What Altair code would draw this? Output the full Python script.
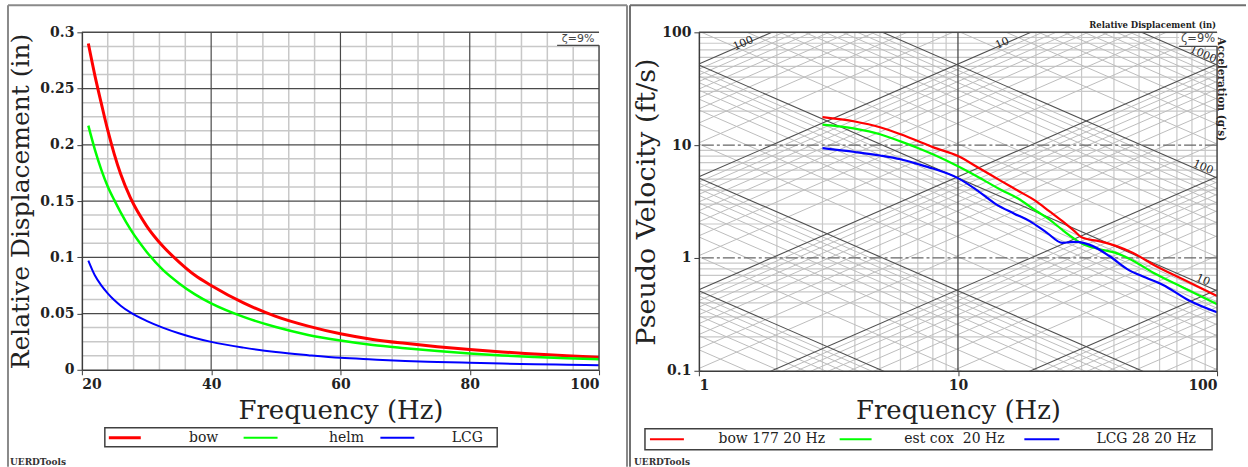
import math
import altair as alt
import pandas as pd

# ---------------------------------------------------------------------------
# Relative displacement (in) versus frequency (Hz)
# ---------------------------------------------------------------------------
disp_freq = [21, 22, 23, 24, 25, 26, 27.5, 30, 32.5, 35, 37.5, 40,
             45, 50, 55, 60, 65, 70, 75, 80, 85, 90, 95, 100]
disp_bow = [0.290, 0.262, 0.237, 0.213, 0.192, 0.174, 0.153, 0.128, 0.110, 0.096, 0.084, 0.075,
            0.0595, 0.0475, 0.0388, 0.032, 0.027, 0.0235, 0.0205, 0.018, 0.0158, 0.0141, 0.0125, 0.0112]
disp_helm = [0.217, 0.196, 0.178, 0.163, 0.151, 0.140, 0.125, 0.105, 0.089, 0.077, 0.067, 0.059,
             0.047, 0.038, 0.031, 0.026, 0.022, 0.0192, 0.0167, 0.0145, 0.0128, 0.0114, 0.0102, 0.0093]
disp_lcg = [0.097, 0.084, 0.075, 0.068, 0.062, 0.057, 0.051, 0.0435, 0.0375, 0.0325, 0.0283, 0.0248,
            0.0197, 0.0158, 0.013, 0.0106, 0.0092, 0.0079, 0.007, 0.0062, 0.0055, 0.005, 0.0045, 0.0041]
disp_names = ["bow", "helm", "LCG"]

# ---------------------------------------------------------------------------
# Pseudo velocity shock spectra (ft/s), 9 % damping
# ---------------------------------------------------------------------------
pv_bow_freq = [3, 4, 5, 6, 7, 8, 10, 12, 14.7, 17, 20, 22.5, 25.3, 28, 30.3, 35, 40.7, 47.2, 58, 73.5, 100]
pv_bow = [17.7, 16.2, 14.4, 12.5, 10.9, 9.6, 8.0, 6.3, 4.8, 3.96, 3.19, 2.6, 2.12, 1.75, 1.51, 1.41,
          1.28, 1.11, 0.85, 0.65, 0.46]
pv_est_freq = [3, 4, 5, 6, 7, 8, 10, 12, 14.7, 17, 20, 22.5, 25.3, 28, 30.3, 35, 40.7, 47.2, 58, 73.5, 100]
pv_est = [15.2, 14.0, 12.5, 10.8, 9.45, 8.3, 6.5, 5.2, 4.0, 3.38, 2.62, 2.2, 1.77, 1.49, 1.33, 1.2,
          1.11, 0.95, 0.72, 0.55, 0.39]
pv_lcg_freq = [3, 4, 5, 6, 7, 8, 10, 12, 14, 16.5, 18.9, 22, 25.3, 27, 28.5, 33, 38.4, 45.7, 53, 61.6, 78, 100]
pv_lcg = [9.4, 8.7, 8.1, 7.5, 6.8, 6.2, 5.1, 3.9, 3.0, 2.47, 2.12, 1.68, 1.36, 1.38, 1.39, 1.28,
          1.04, 0.78, 0.67, 0.58, 0.42, 0.33]
pv_names = ["bow 177 20 Hz", "est cox\u00a0 20 Hz", "LCG 28 20 Hz"]

series_colors = ["#ff0000", "#00ff00", "#0000ff"]

# Tripartite grid: displacement lines (in) and acceleration lines (g)
disp_decades = [-3, -2, -1, 0, 1, 2]
acc_decades = [-2, -1, 0, 1, 2, 3]
disp_labels = [100, 10]
acc_labels = [1000, 100, 10]

G_FTS2 = 32.174  # standard gravity, ft/s^2

SERIF = "DejaVu Serif"
INK = "#222222"
MINOR = "#c8c8c8"
MAJOR = "#4a4a4a"
FRAME = "#8a8a8a"

one = pd.DataFrame({"k": [0]})


def disp_to_pv(f, d_in):
    return 2 * math.pi * f * d_in / 12.0


def acc_to_pv(f, a_g):
    return a_g * G_FTS2 / (2 * math.pi * f)


def fixed_rule(x, y, x2=None, y2=None, color=MAJOR, width=1.5, dash=None):
    enc = dict(x=alt.value(x), y=alt.value(y))
    if x2 is not None:
        enc["x2"] = alt.value(x2)
    if y2 is not None:
        enc["y2"] = alt.value(y2)
    mk = dict(color=color, strokeWidth=width)
    if dash:
        mk["strokeDash"] = dash
    return alt.Chart(one).mark_rule(**mk).encode(**enc)


def fixed_text(text, x, y, **kw):
    return alt.Chart(one).mark_text(text=text, **kw).encode(x=alt.value(x), y=alt.value(y))


def fixed_rect(x, y, x2, y2, **kw):
    return alt.Chart(one).mark_rect(**kw).encode(
        x=alt.value(x), x2=alt.value(x2), y=alt.value(y), y2=alt.value(y2))


def make_axis(**kw):
    base = dict(grid=False, domainColor="#3c3c3c", domainWidth=1.5, tickColor="#3c3c3c",
                tickSize=5, labelFont=SERIF, labelFontWeight="bold", labelFontSize=14,
                labelColor=INK, labelPadding=3, titleFont=SERIF, titleFontSize=26,
                titleFontWeight="normal", titleColor=INK, titleAlign="center",
                titleBaseline="middle", zindex=1)
    base.update(kw)
    return alt.Axis(**base)


def vrules(vals, scale, axis, color, width, dash=None):
    mk = dict(color=color, strokeWidth=width)
    if dash:
        mk["strokeDash"] = dash
    return alt.Chart(pd.DataFrame({"v": vals})).mark_rule(**mk).encode(
        x=alt.X("v:Q", scale=scale, axis=axis))


def hrules(vals, scale, axis, color, width, dash=None):
    mk = dict(color=color, strokeWidth=width)
    if dash:
        mk["strokeDash"] = dash
    return alt.Chart(pd.DataFrame({"v": vals})).mark_rule(**mk).encode(
        y=alt.Y("v:Q", scale=scale, axis=axis))


def legend_layers(names, sym_spans, label_xs, y, box, widths):
    layers = [fixed_rect(*box, fill="white", stroke="#404040", strokeWidth=1.5)]
    for name, color, (xa, xb), lx, w in zip(names, series_colors, sym_spans, label_xs, widths):
        layers.append(fixed_rule(xa, y, x2=xb, color=color, width=w))
        layers.append(fixed_text(name, lx, y, font=SERIF, fontSize=14, color=INK,
                                 align="center", baseline="middle"))
    return layers


# ---------------------------------------------------------------------------
# Left panel
# ---------------------------------------------------------------------------
WL, HL = 518, 338
xL = alt.Scale(domain=[20, 100], nice=False, zero=False)
yL = alt.Scale(domain=[0, 0.3], nice=False)
xL_axis = make_axis(values=[20, 40, 60, 80, 100], format="d",
                    title="Frequency (Hz)", titleX=WL / 2, titleY=41)
yL_axis = make_axis(values=[0, 0.05, 0.1, 0.15, 0.2, 0.25, 0.3], format="~g",
                    title="Relative Displacement (in)", titleX=-61, titleY=HL / 2, titleAngle=270,
                    titleFontSize=25)

left_df = pd.DataFrame([
    {"series": n, "f": f, "d": d}
    for n, vals in zip(disp_names, [disp_bow, disp_helm, disp_lcg])
    for f, d in zip(disp_freq, vals)
])

left_curves = alt.Chart(left_df).mark_line(interpolate="monotone").encode(
    x=alt.X("f:Q", scale=xL, axis=xL_axis),
    y=alt.Y("d:Q", scale=yL, axis=yL_axis),
    color=alt.Color("series:N", scale=alt.Scale(domain=disp_names, range=series_colors), legend=None),
    strokeWidth=alt.StrokeWidth("series:N", scale=alt.Scale(domain=disp_names, range=[3, 2, 1.8]),
                                legend=None),
)

left_minor_x = [f for f in range(24, 100, 4) if f % 20]
left_major_x = [40, 60, 80]
left_minor_y = [i * 0.0125 for i in range(1, 24) if i % 4]
left_major_y = [0.05, 0.1, 0.15, 0.2, 0.25]

left_layers = [
    fixed_rect(-81, -31, 1167, 436, fill="white"),
    fixed_rule(-74, -27, x2=546, color=FRAME, width=2),
    fixed_rule(-74, -27, y2=435, color=FRAME, width=2),
    fixed_rule(546, -27, y2=435, color=FRAME, width=2),
    vrules(left_minor_x, xL, xL_axis, MINOR, 1.5),
    hrules(left_minor_y, yL, yL_axis, MINOR, 1.5),
    vrules(left_major_x, xL, xL_axis, MAJOR, 1.2),
    hrules(left_major_y, yL, yL_axis, MAJOR, 1.2),
    left_curves,
    fixed_rule(0, 0, x2=WL, color=MAJOR, width=1.5),
    fixed_rect(476, 1, 521, 13, fill="white"),
    fixed_rule(476, 13, x2=WL, color=MAJOR, width=1.2),
    fixed_rule(WL, 13, y2=HL, color=MAJOR, width=1.5),
    fixed_text("\u03b6=9%", 497, 7, font="DejaVu Sans", fontSize=11, color="#444444",
               align="center", baseline="middle"),
    *legend_layers(disp_names, [(27, 59), (162, 196), (299, 333)], [122, 265, 386], 406,
                   (23, 396, 416, 415), [3, 2, 2]),
    fixed_text("UERDTools", -72, 433, font=SERIF, fontSize=9, fontWeight="bold", color="#333333",
               align="left", baseline="alphabetic"),
]
left = alt.layer(*left_layers).properties(width=WL, height=HL)

# ---------------------------------------------------------------------------
# Right panel: tripartite pseudo velocity plot
# ---------------------------------------------------------------------------
WR, HR = 519, 339
xR = alt.Scale(type="log", domain=[1, 100], nice=False)
yR = alt.Scale(type="log", domain=[0.1, 100], nice=False)
xR_axis = make_axis(values=[1, 10, 100], format="~g",
                    title="Frequency (Hz)", titleX=WR / 2, titleY=40)
yR_axis = make_axis(values=[0.1, 1, 10, 100], format="~g",
                    title="Pseudo Velocity (ft/s)", titleX=-52, titleY=HR / 2, titleAngle=270,
                    titleFontSize=27)

right_df = pd.DataFrame([
    {"series": n, "f": f, "v": v}
    for n, fs, vs in zip(pv_names, [pv_bow_freq, pv_est_freq, pv_lcg_freq], [pv_bow, pv_est, pv_lcg])
    for f, v in zip(fs, vs)
])

right_curves = alt.Chart(right_df).mark_line(interpolate="monotone").encode(
    x=alt.X("f:Q", scale=xR, axis=xR_axis),
    y=alt.Y("v:Q", scale=yR, axis=yR_axis),
    color=alt.Color("series:N", scale=alt.Scale(domain=pv_names, range=series_colors), legend=None),
    strokeWidth=alt.value(2.2),
)

diag_rows = []
for k in disp_decades:
    for m in range(1, 10):
        d = m * 10 ** k
        for f in (1, 100):
            diag_rows.append({"id": f"d{k}_{m}", "f": f, "v": disp_to_pv(f, d), "major": m == 1})
for k in acc_decades:
    for m in range(1, 10):
        a = m * 10 ** k
        for f in (1, 100):
            diag_rows.append({"id": f"a{k}_{m}", "f": f, "v": acc_to_pv(f, a), "major": m == 1})
diag_df = pd.DataFrame(diag_rows)


def diagonals(df, color, width):
    return alt.Chart(df).mark_line(clip=True, color=color, strokeWidth=width).encode(
        x=alt.X("f:Q", scale=xR, axis=xR_axis),
        y=alt.Y("v:Q", scale=yR, axis=yR_axis),
        detail="id:N",
    )


right_minor_x = [m * 10 ** k for k in (0, 1) for m in range(2, 10)]
right_minor_y = [m * 10 ** k for k in (-1, 0, 1) for m in range(2, 10)]

angle = math.degrees(math.atan((HR / 3) / (WR / 2)))
d_lab_df = pd.DataFrame([{"f": 78 * 12 / (2 * math.pi * d), "v": 78.0, "t": f"{d:g}"} for d in disp_labels])
a_lab_df = pd.DataFrame([{"f": 87.0, "v": acc_to_pv(87.0, a), "t": f"{a:g}"} for a in acc_labels])

d_labels = alt.Chart(d_lab_df).mark_text(font=SERIF, fontSize=11, color=INK, angle=360 - angle,
                                        align="center", baseline="middle", dy=-1).encode(
    x=alt.X("f:Q", scale=xR, axis=xR_axis), y=alt.Y("v:Q", scale=yR, axis=yR_axis), text="t:N")
a_labels = alt.Chart(a_lab_df).mark_text(font=SERIF, fontSize=11, color=INK, angle=angle,
                                        align="center", baseline="middle", dy=-4).encode(
    x=alt.X("f:Q", scale=xR, axis=xR_axis), y=alt.Y("v:Q", scale=yR, axis=yR_axis), text="t:N")

right_layers = [
    fixed_rule(-69, -27, x2=548, color="#707070", width=2),
    fixed_rule(-69, -27, y2=435, color="#707070", width=2),
    vrules(right_minor_x, xR, xR_axis, MINOR, 1.2),
    hrules(right_minor_y, yR, yR_axis, MINOR, 1.2),
    diagonals(diag_df[~diag_df["major"]], "#bdbdbd", 1),
    diagonals(diag_df[diag_df["major"]], "#505050", 1.1),
    vrules([10], xR, xR_axis, MAJOR, 1.3),
    hrules([1, 10], yR, yR_axis, "#666666", 1.3, dash=[12, 3, 3, 3]),
    right_curves,
    d_labels,
    a_labels,
    fixed_rule(0, 0, x2=WR, color=MAJOR, width=1.5),
    fixed_rect(481, 1, 522, 14, fill="white"),
    fixed_rule(481, 14, x2=WR, color=MAJOR, width=1.2),
    fixed_rule(WR, 14, y2=HR, color=MAJOR, width=1.5),
    fixed_text("\u03b6=9%", 500, 7, font="DejaVu Sans", fontSize=11.5, color="#444444",
               align="center", baseline="middle"),
    fixed_text("Relative Displacement (in)", WR - 1, -4, font=SERIF, fontSize=8.5, fontWeight="bold",
               color=INK, align="right", baseline="alphabetic"),
    fixed_text("Acceleration (g's)", WR + 4, 57, font=SERIF, fontSize=10.5, fontWeight="bold",
               color=INK, angle=90, align="center", baseline="middle"),
    *legend_layers(pv_names, [(-49, -15), (141, 173), (326, 361)], [73, 256, 448], 407.5,
                   (-54, 397, 514, 418), [2, 2, 2]),
    fixed_text("UERDTools", -65, 433, font=SERIF, fontSize=9, fontWeight="bold", color="#333333",
               align="left", baseline="alphabetic"),
]
right = alt.layer(*right_layers).properties(width=WR, height=HR)

chart = (
    alt.hconcat(left, right, spacing=100, bounds="flush")
    .properties(padding=0)
    .configure_view(stroke=None)
    .configure(background="white")
)

chart.save("out.html", embed_options={"renderer": "svg", "actions": False})
